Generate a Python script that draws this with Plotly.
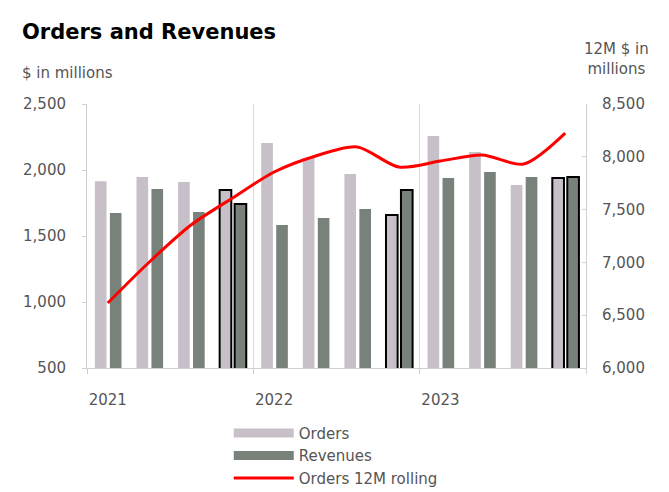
import plotly.graph_objects as go

quarters = ["Q1 2021", "Q2 2021", "Q3 2021", "Q4 2021",
            "Q1 2022", "Q2 2022", "Q3 2022", "Q4 2022",
            "Q1 2023", "Q2 2023", "Q3 2023", "Q4 2023"]
orders = [1915, 1947, 1909, 1848, 2205, 2091, 1970, 1659, 2258, 2136, 1886, 1939]
revenues = [1674, 1856, 1682, 1742, 1583, 1636, 1705, 1848, 1939, 1985, 1947, 1947]
orders_12m = [6616, 7004, 7354, 7610, 7856, 8008, 8093, 7903, 7960, 8017, 7932, 8225]
year_labels = ["2021", "2022", "2023"]
highlighted = ["Q4 2021", "Q4 2022", "Q4 2023"]

x = list(range(len(quarters)))
outline_w = [2 if q in highlighted else 0 for q in quarters]

FONT = "DejaVu Sans"
TXT = "#555555"
ORD_C = "#c8c0c8"
REV_C = "#78827a"
AX = "#d0d0d0"

fig = go.Figure()
fig.add_trace(go.Bar(
    x=x, y=orders, name="Orders", width=0.28, offset=-0.31, showlegend=False,
    marker=dict(color=ORD_C, line=dict(color="black", width=outline_w)),
))
fig.add_trace(go.Bar(
    x=x, y=revenues, name="Revenues", width=0.28, offset=0.05, showlegend=False,
    marker=dict(color=REV_C, line=dict(color="black", width=outline_w)),
))
fig.add_trace(go.Scatter(
    x=x, y=orders_12m, name="Orders 12M rolling", yaxis="y2",
    mode="lines", line=dict(color="#ff0000", width=3, shape="spline", smoothing=0.8),
    showlegend=False,
))
# legend entries (wide swatches like the reference)
fig.add_trace(go.Scatter(x=[None], y=[None], name="Orders", mode="lines",
                         line=dict(color=ORD_C, width=9)))
fig.add_trace(go.Scatter(x=[None], y=[None], name="Revenues", mode="lines",
                         line=dict(color=REV_C, width=9)))
fig.add_trace(go.Scatter(x=[None], y=[None], name="Orders 12M rolling", mode="lines",
                         line=dict(color="#ff0000", width=3)))

fig.update_layout(
    width=669, height=492,
    margin=dict(l=79, r=91, t=96, b=132, autoexpand=False),
    paper_bgcolor="white", plot_bgcolor="white",
    font=dict(family=FONT, size=15, color=TXT),
    barmode="overlay",
    showlegend=True,
    legend=dict(xref="container", yref="container",
                x=0.330, y=0.169, xanchor="left", yanchor="top",
                traceorder="normal", itemwidth=60,
                font=dict(size=15, color=TXT), tracegroupgap=0),
    xaxis=dict(
        range=[-0.5, 11.5],
        tickmode="array", tickvals=[0, 4, 8], ticktext=year_labels,
        ticks="", showgrid=False, zeroline=False,
        showline=True, linecolor=AX, linewidth=1,
        minor=dict(tickmode="array", tickvals=[-0.5, 3.5, 7.5, 11.5],
                   ticks="outside", ticklen=5, tickcolor=AX,
                   showgrid=True, gridcolor="#d9d9d9", gridwidth=1),
        tickfont=dict(size=15, color=TXT), ticklabelstandoff=18,
        automargin=False,
    ),
    yaxis=dict(
        range=[500, 2500], tickvals=[500, 1000, 1500, 2000, 2500],
        tickformat=",", showgrid=False, zeroline=False,
        showline=True, linecolor=AX, linewidth=1,
        ticks="outside", ticklen=4, tickcolor=AX,
        tickfont=dict(size=15, color=TXT), ticklabelstandoff=13,
        automargin=False,
    ),
    yaxis2=dict(
        range=[6000, 8500], tickvals=[6000, 6500, 7000, 7500, 8000, 8500],
        tickformat=",", overlaying="y", side="right",
        showgrid=False, zeroline=False,
        showline=True, linecolor=AX, linewidth=1,
        ticks="inside", ticklen=4, tickcolor=AX,
        tickfont=dict(size=15, color=TXT), ticklabelstandoff=12,
        automargin=False,
    ),
    annotations=[
        dict(text="<b>Orders and Revenues</b>", xref="paper", yref="paper",
             x=-0.134, y=1.273, xanchor="left", yanchor="middle", showarrow=False,
             font=dict(size=21, color="#000000", family=FONT)),
        dict(text="$ in millions", xref="paper", yref="paper",
             x=-0.134, y=1.117, xanchor="left", yanchor="middle", showarrow=False,
             font=dict(size=15, color=TXT)),
        dict(text="12M $ in<br>millions", xref="paper", yref="paper",
             x=1.062, y=1.172, xanchor="center", yanchor="middle", showarrow=False,
             font=dict(size=15, color=TXT)),
    ],
)

fig.write_html("out.html")
